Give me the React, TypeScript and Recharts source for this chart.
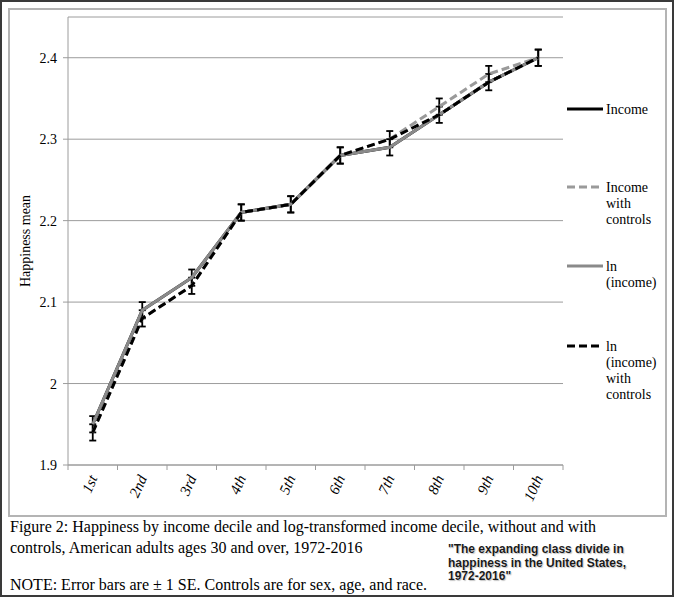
import React from 'react';
import { LineChart, Line, XAxis, YAxis, CartesianGrid, ErrorBar, Label } from 'recharts';

const categories = ['1st', '2nd', '3rd', '4th', '5th', '6th', '7th', '8th', '9th', '10th'];
const income = [1.95, 2.09, 2.13, 2.21, 2.22, 2.28, 2.29, 2.33, 2.37, 2.40];
const incomeSE = [0.01, 0.01, 0.01, 0.01, 0.01, 0.01, 0.01, 0.01, 0.01, 0.01];
const incomeControls = [1.94, 2.08, 2.12, 2.21, 2.22, 2.28, 2.30, 2.34, 2.38, 2.40];
const incomeControlsSE = [0.01, 0.01, 0.01, 0.01, 0.01, 0.01, 0.01, 0.01, 0.01, 0.01];
const lnIncome = [1.95, 2.09, 2.13, 2.21, 2.22, 2.28, 2.29, 2.33, 2.37, 2.40];
const lnIncomeControls = [1.94, 2.08, 2.12, 2.21, 2.22, 2.28, 2.30, 2.33, 2.37, 2.40];
const yTicks = [1.9, 2, 2.1, 2.2, 2.3, 2.4];
const yDomain = [1.9, 2.45];

const seriesNames = ['Income', 'Income with controls', 'ln (income)', 'ln (income) with controls'];
const legendLines = [['Income'], ['Income', 'with', 'controls'], ['ln', '(income)'], ['ln', '(income)', 'with', 'controls']];

const BLACK = '#000000';
const GRAY = '#8a8a8a';
const GRAY_D = '#9a9a9a';
const seriesStyles = [
  { color: BLACK, dash: undefined },
  { color: GRAY_D, dash: '8 4' },
  { color: GRAY, dash: undefined },
  { color: BLACK, dash: '8 4' },
];

const data = categories.map((c, i) => ({
  cat: c,
  income: income[i],
  incomeSE: incomeSE[i],
  incomeControls: incomeControls[i],
  incomeControlsSE: incomeControlsSE[i],
  lnIncome: lnIncome[i],
  lnIncomeControls: lnIncomeControls[i],
}));

const W = 674;
const H = 597;
const PLOT_LEFT = 68;
const PLOT_RIGHT = 563;
const PLOT_TOP = 17;
const PLOT_BOTTOM = 465;
const X_AXIS_H = 40;
const Y_AXIS_W = 60;
const BAND = (PLOT_RIGHT - PLOT_LEFT) / categories.length;

const serif = '"Liberation Serif", "Times New Roman", serif';
const AXIS_GRAY = '#9c9c9c';

const XTick = (props: any) => {
  const { x, y, payload, index } = props;
  const isLast = index === categories.length - 1;
  const tx = x + 5;
  const ty = y + 13;
  return (
    <g>
      <line x1={x - BAND / 2} y1={y} x2={x - BAND / 2} y2={y + 5} stroke={AXIS_GRAY} strokeWidth={1} />
      {isLast && <line x1={x + BAND / 2} y1={y} x2={x + BAND / 2} y2={y + 5} stroke={AXIS_GRAY} strokeWidth={1} />}
      <text
        x={tx}
        y={ty}
        transform={`rotate(-66, ${tx}, ${ty})`}
        textAnchor="end"
        fontFamily={serif}
        fontStyle="italic"
        fontSize={15}
        fill="#000"
      >
        {payload.value}
      </text>
    </g>
  );
};

const Legend = () => {
  const starts = [109, 187, 266, 346];
  return (
    <svg width={W} height={H} style={{ position: 'absolute', left: 0, top: 0, pointerEvents: 'none' }}>
      {seriesNames.map((name, i) => (
        <g key={name}>
          <line
            x1={567}
            x2={603}
            y1={starts[i]}
            y2={starts[i]}
            stroke={seriesStyles[i].color}
            strokeWidth={3}
            strokeDasharray={seriesStyles[i].dash}
          />
          {legendLines[i].map((t, j) => (
            <text key={j} x={606} y={starts[i] + 5 + j * 16} fontFamily={serif} fontSize={14} fill="#000">
              {t}
            </text>
          ))}
        </g>
      ))}
    </svg>
  );
};

export default function App() {
  return (
    <div
      style={{
        position: 'absolute',
        left: 0,
        top: 0,
        width: W,
        height: H,
        background: '#fff',
        boxSizing: 'border-box',
        border: '2px solid #3a3a3a',
        overflow: 'hidden',
      }}
    >
      <div
        style={{
          position: 'absolute',
          left: 6,
          top: 6,
          width: 659,
          height: 509,
          boxSizing: 'border-box',
          border: '2px solid #b4b4b4',
        }}
      />
      <div style={{ position: 'absolute', left: -2, top: -2 }}>
        <LineChart
          width={W}
          height={H}
          data={data}
          margin={{ top: PLOT_TOP, right: W - PLOT_RIGHT, bottom: H - PLOT_BOTTOM - X_AXIS_H, left: PLOT_LEFT - Y_AXIS_W }}
        >
          <CartesianGrid vertical={false} stroke={AXIS_GRAY} strokeWidth={1} />
          <XAxis
            dataKey="cat"
            height={X_AXIS_H}
            padding={{ left: BAND / 2, right: BAND / 2 }}
            interval={0}
            tickLine={false}
            tickSize={0}
            tickMargin={0}
            axisLine={{ stroke: AXIS_GRAY, strokeWidth: 1 }}
            tick={<XTick />}
          />
          <YAxis
            width={Y_AXIS_W}
            domain={yDomain}
            ticks={yTicks}
            allowDataOverflow
            tickSize={5}
            tickMargin={6}
            tickLine={{ stroke: AXIS_GRAY }}
            axisLine={{ stroke: AXIS_GRAY, strokeWidth: 1 }}
            tick={{ fill: '#000', fontFamily: serif, fontSize: 14 }}
          >
            <Label
              content={(p: any) => {
                const vb = p.viewBox || { x: 8, y: PLOT_TOP, width: Y_AXIS_W, height: PLOT_BOTTOM - PLOT_TOP };
                const cx = vb.x + 17;
                const cy = vb.y + vb.height / 2;
                return (
                  <text
                    x={cx}
                    y={cy}
                    transform={`rotate(-90, ${cx}, ${cy})`}
                    textAnchor="middle"
                    dominantBaseline="central"
                    fontFamily={serif}
                    fontSize={14}
                    fill="#000"
                  >
                    Happiness mean
                  </text>
                );
              }}
            />
          </YAxis>
          <Line
            dataKey="income"
            name={seriesNames[0]}
            stroke={seriesStyles[0].color}
            strokeWidth={3}
            dot={false}
            isAnimationActive={false}
          >
            <ErrorBar dataKey="incomeSE" width={3.5} stroke="#000" strokeWidth={1.8} isAnimationActive={false} />
          </Line>
          <Line
            dataKey="incomeControls"
            name={seriesNames[1]}
            stroke={seriesStyles[1].color}
            strokeDasharray={seriesStyles[1].dash}
            strokeWidth={3}
            dot={false}
            isAnimationActive={false}
          >
            <ErrorBar dataKey="incomeControlsSE" width={3.5} stroke="#000" strokeWidth={1.8} isAnimationActive={false} />
          </Line>
          <Line
            dataKey="lnIncome"
            name={seriesNames[2]}
            stroke={seriesStyles[2].color}
            strokeWidth={3}
            dot={false}
            isAnimationActive={false}
          />
          <Line
            dataKey="lnIncomeControls"
            name={seriesNames[3]}
            stroke={seriesStyles[3].color}
            strokeDasharray={seriesStyles[3].dash}
            strokeWidth={3}
            dot={false}
            isAnimationActive={false}
          />
        </LineChart>
        <Legend />
      </div>
      <div
        style={{
          position: 'absolute',
          left: 8,
          top: 514,
          width: 650,
          fontFamily: serif,
          fontSize: 16,
          lineHeight: '21px',
          color: '#000',
        }}
      >
        <div>Figure 2: Happiness by income decile and log-transformed income decile, without and with</div>
        <div>controls, American adults ages 30 and over, 1972-2016</div>
        <div style={{ marginTop: 16 }}>NOTE: Error bars are ± 1 SE. Controls are for sex, age, and race.</div>
      </div>
      <div
        style={{
          position: 'absolute',
          left: 446,
          top: 541,
          fontFamily: '"Liberation Sans", Arial, sans-serif',
          fontWeight: 'bold',
          fontSize: 12,
          lineHeight: '13.5px',
          color: '#1a1a1a',
          textShadow: '0 0 1px #fff, 1px 1px 1px rgba(0,0,0,0.25)',
        }}
      >
        <div>"The expanding class divide in</div>
        <div>happiness in the United States,</div>
        <div>1972-2016"</div>
      </div>
    </div>
  );
}
